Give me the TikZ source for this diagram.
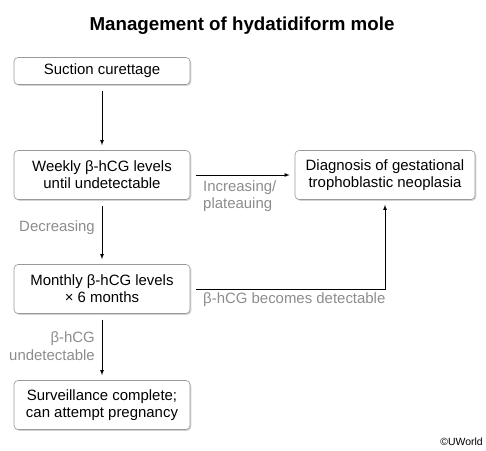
\documentclass[tikz,border=0pt]{standalone}
\usepackage{fontspec}
\setmainfont{Liberation Sans}
\usepackage{tikz}
\usetikzlibrary{arrows,shadows,calc}
\tikzstyle{stage}=[rectangle, rounded corners=4bp, draw=black!40, fill=white, line width=0.6bp, drop shadow={shadow xshift=1.3bp, shadow yshift=-1.3bp, opacity=0.35}, align=center, inner sep=0pt, minimum width=176bp, minimum height=49bp, font=\fontsize{15}{17}\selectfont]
\newcommand{\stage}{\node[stage]}
\definecolor{labelgray}{HTML}{8C8C8C}

\begin{document}
\begin{tikzpicture}[x=1bp, y=-1bp]
	\tikzstyle{flow}=[draw=black, line width=0.8bp, -latex, shorten <=6bp, shorten >=5bp]
	\tikzstyle{cond}=[text=labelgray, font=\fontsize{15}{17.5}\selectfont, inner sep=0pt]
	\useasboundingbox (0,0) rectangle (486,451);
	% Titre
	\node[font=\fontsize{18.8}{22}\selectfont\bfseries] (title) at (242,26) {Management of hydatidiform mole};
	% Etapes
	\stage[minimum height=27bp] (suction) at (102,71) {Suction curettage};
	\stage (weekly) at (102,175) {Weekly β-hCG levels\\until undetectable};
	\stage[minimum width=180bp] (gtn) at (385,175) {Diagnosis of gestational\\trophoblastic neoplasia};
	\stage (monthly) at (102,289) {Monthly β-hCG levels\\× 6 months};
	\stage (surv) at (102,405) {Surveillance complete;\\can attempt pregnancy};
	% Conditions
	\node[cond, anchor=west, align=left] (incr) at (203,196) {Increasing/\\plateauing};
	\node[cond, anchor=east] (decr) at (95,228) {Decreasing};
	\node[cond, anchor=west] (detect) at (203,300) {β-hCG becomes detectable};
	\node[cond, anchor=east, align=right] (undet) at (95,346) {β-hCG\\undetectable};
	\node[font=\fontsize{10.5}{12}\selectfont, anchor=east, inner sep=0pt] (copy) at (483,442) {©UWorld};

	\path
	(suction) edge[flow] (weekly)
	(weekly) edge[flow] (monthly)
	(monthly) edge[flow] (surv)
	(weekly) edge[flow] (gtn)
	;
	\draw[flow] (monthly) -| (gtn);
\end{tikzpicture}
\end{document}
